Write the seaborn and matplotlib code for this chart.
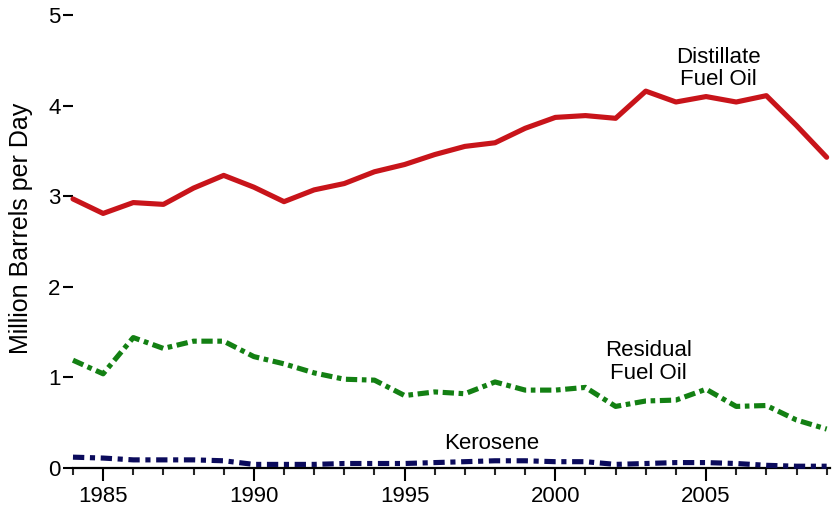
import pandas as pd
import matplotlib
matplotlib.use("Agg")
import matplotlib.pyplot as plt
import seaborn as sns

years = list(range(1984, 2010))

distillate = [2.97, 2.81, 2.93, 2.91, 3.09, 3.23, 3.10, 2.94, 3.07, 3.14,
              3.27, 3.35, 3.46, 3.55, 3.59, 3.75, 3.87, 3.89, 3.86, 4.16,
              4.04, 4.10, 4.04, 4.11, 3.78, 3.43]
residual = [1.19, 1.04, 1.44, 1.32, 1.40, 1.40, 1.23, 1.15, 1.05, 0.98,
            0.97, 0.80, 0.84, 0.82, 0.95, 0.86, 0.86, 0.89, 0.68, 0.74,
            0.75, 0.87, 0.68, 0.69, 0.53, 0.43]
kerosene = [0.12, 0.11, 0.09, 0.09, 0.09, 0.08, 0.04, 0.04, 0.04, 0.05,
            0.05, 0.05, 0.06, 0.07, 0.08, 0.08, 0.07, 0.07, 0.04, 0.05,
            0.06, 0.06, 0.05, 0.03, 0.02, 0.02]

y_ticks = [0, 1, 2, 3, 4, 5]
x_major = [1985, 1990, 1995, 2000, 2005]

sns.set_style("white")
plt.rcParams['font.family'] = ['Liberation Sans', 'DejaVu Sans']
plt.rcParams['text.color'] = 'black'

fig = plt.figure(figsize=(8.33, 5.11), dpi=100)
ax = fig.add_axes([0.0876, 0.0841, 0.9084, 0.8865])

df = pd.DataFrame({"year": years, "distillate": distillate,
                   "residual": residual, "kerosene": kerosene})

# three series, each drawn with its own style
sns.lineplot(data=df, x="year", y="distillate", ax=ax, color="#c8141a",
             linewidth=3.7, clip_on=False, zorder=4)
sns.lineplot(data=df, x="year", y="residual", ax=ax, color="#138013",
             linewidth=3.7, clip_on=False, zorder=4).lines[-1].set_dashes((2.2, 0.9, 0.9, 0.9))
sns.lineplot(data=df, x="year", y="kerosene", ax=ax, color="#0b0b5c",
             linewidth=3.7, clip_on=False, zorder=5).lines[-1].set_dashes((2.2, 1.1, 1.0, 1.1))

ax.set_xlim(1984, 2009.1)
ax.set_ylim(0, 5)
ax.set_yticks(y_ticks)
ax.set_xticks(x_major)
ax.set_xticks(years, minor=True)
ax.set_xlabel("")
ax.set_ylabel("Million Barrels per Day", fontsize=18, color="black")
ax.yaxis.set_label_coords(-0.053, 0.53)

for side in ["top", "right", "left"]:
    ax.spines[side].set_visible(False)
ax.spines["bottom"].set_linewidth(1.6)
ax.spines["bottom"].set_color("black")

ax.tick_params(axis="y", which="major", left=True, length=7, width=1.5,
               labelsize=16, pad=2, colors="black")
ax.tick_params(axis="x", which="major", bottom=True, length=9, width=1.5,
               labelsize=16, pad=4, colors="black")
ax.tick_params(axis="x", which="minor", bottom=True, length=5, width=1.5)

ax.text(2005.4, 4.41, "Distillate\nFuel Oil", ha="center", va="center",
        fontsize=16, linespacing=1.1, color="black")
ax.text(2003.1, 1.17, "Residual\nFuel Oil", ha="center", va="center",
        fontsize=16, linespacing=1.1, color="black")
ax.text(1997.9, 0.27, "Kerosene", ha="center", va="center", fontsize=16,
        color="black")

fig.savefig("out.png", dpi=100)
